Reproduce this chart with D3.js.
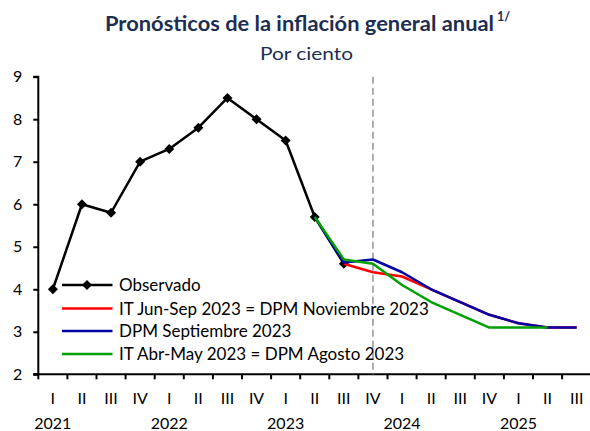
<!DOCTYPE html>
<html>
<head>
<meta charset="utf-8">
<script src="https://cdn.jsdelivr.net/npm/d3@7/dist/d3.min.js"></script>
<style>
  html, body { margin: 0; padding: 0; background: #fff; }
  svg { display: block; font-family: "Lato", "Liberation Sans", Arial, sans-serif; }
</style>
</head>
<body>
<svg id="chart" width="590" height="431"></svg>
<script>
// ---- Data ----
const quarterLabels = ["I","II","III","IV","I","II","III","IV","I","II","III","IV","I","II","III","IV","I","II","III"];
const yearLabels = ["2021","2022","2023","2024","2025"];
const yTicks = [2,3,4,5,6,7,8,9];

// Observed annual headline inflation, starting 2021 I
const observado = [4.0, 6.0, 5.8, 7.0, 7.3, 7.8, 8.5, 8.0, 7.5, 5.7, 4.6];
const observadoStart = 0;
// IT Jun-Sep 2023 = DPM Noviembre 2023, starting 2023 III
const itJunSep = [4.6, 4.4, 4.3, 4.0, 3.7, 3.4, 3.2, 3.1, 3.1];
const itJunSepStart = 10;
// DPM Septiembre 2023, starting 2023 II
const dpmSep = [5.7, 4.63, 4.7, 4.4, 4.0, 3.7, 3.4, 3.2, 3.1, 3.1];
const dpmSepStart = 9;
// IT Abr-May 2023 = DPM Agosto 2023, starting 2023 II
const itAbrMay = [5.7, 4.7, 4.6, 4.1, 3.7, 3.4, 3.1, 3.1, 3.1];
const itAbrMayStart = 9;

const legendNames = ["Observado", "IT Jun-Sep 2023 = DPM Noviembre 2023", "DPM Septiembre 2023", "IT Abr-May 2023 = DPM Agosto 2023"];
const colors = ["#000000", "#ff0000", "#0000a8", "#00a000"];
const dividerIndex = 11; // 2023 IV

// ---- Layout ----
const svg = d3.select("#chart");
const mLeft = 38.3, mRight = 591.2, mTop = 76.7, mBottom = 374.3;

const idx = d3.range(quarterLabels.length);
const x = d3.scaleBand().domain(idx).range([mLeft, mRight]).paddingInner(0).paddingOuter(0);
const cx = i => x(i) + x.bandwidth() / 2;
const y = d3.scaleLinear().domain([2, 9]).range([mBottom, mTop]);

// Title
const navy = "#1c2e52";
svg.append("text")
  .attr("x", 105).attr("y", 31)
  .attr("font-size", 20).attr("font-weight", "bold").attr("fill", navy)
  .attr("textLength", 389).attr("lengthAdjust", "spacingAndGlyphs")
  .text("Pronósticos de la inflación general anual");
svg.append("text")
  .attr("x", 497).attr("y", 21)
  .attr("font-size", 12.5).attr("font-weight", "bold").attr("fill", navy)
  .text("1/");
svg.append("text")
  .attr("x", 260).attr("y", 60)
  .attr("font-size", 18).attr("fill", navy)
  .attr("textLength", 93).attr("lengthAdjust", "spacingAndGlyphs")
  .text("Por ciento");

// Y axis
const yAxis = d3.axisLeft(y).tickValues(yTicks).tickSize(5).tickPadding(11).tickFormat(d3.format("d"));
const gy = svg.append("g").attr("transform", `translate(${mLeft},0)`).call(yAxis);
gy.select(".domain").attr("stroke", "#000").attr("stroke-width", 2).attr("d", `M-5,${mBottom}H0V${mTop}H-5`);
gy.selectAll(".tick line").attr("stroke", "#000").attr("stroke-width", 2);
gy.selectAll(".tick text").attr("font-size", 16).attr("fill", "#000").attr("font-family", "Lato, Liberation Sans, Arial, sans-serif");

// X axis line
svg.append("line").attr("x1", mLeft - 5).attr("x2", 590).attr("y1", mBottom).attr("y2", mBottom)
  .attr("stroke", "#000").attr("stroke-width", 2);
// X ticks at band boundaries
svg.append("g").selectAll("line").data(idx).join("line")
  .attr("x1", d => x(d)).attr("x2", d => x(d))
  .attr("y1", mBottom).attr("y2", mBottom + 5)
  .attr("stroke", "#000").attr("stroke-width", 2);
// Quarter labels
svg.append("g").selectAll("text").data(idx).join("text")
  .attr("x", d => cx(d)).attr("y", 404)
  .attr("text-anchor", "middle").attr("font-size", 16).attr("fill", "#000")
  .text(d => quarterLabels[d]);
// Year labels under the first quarter
svg.append("g").selectAll("text").data(yearLabels).join("text")
  .attr("x", (d, i) => cx(i * 4)).attr("y", 429)
  .attr("text-anchor", "middle").attr("font-size", 16).attr("fill", "#000")
  .text(d => d);

// Divider dashed line
svg.append("line")
  .attr("x1", cx(dividerIndex)).attr("x2", cx(dividerIndex))
  .attr("y1", y(9)).attr("y2", y(2))
  .attr("stroke", "#a6a6a6").attr("stroke-width", 1.8).attr("stroke-dasharray", "7,4");

// Series
const line = d3.line().x(d => cx(d.i)).y(d => y(d.v));
const toPts = (arr, start) => arr.map((v, k) => ({ i: start + k, v }));

const series = [
  { data: toPts(observado, observadoStart), color: colors[0], markers: true },
  { data: toPts(itJunSep, itJunSepStart), color: colors[1] },
  { data: toPts(dpmSep, dpmSepStart), color: colors[2] },
  { data: toPts(itAbrMay, itAbrMayStart), color: colors[3] }
];

const squareDiamond = {
  draw(ctx, size) {
    const r = Math.sqrt(size / 2);
    ctx.moveTo(0, -r); ctx.lineTo(r, 0); ctx.lineTo(0, r); ctx.lineTo(-r, 0); ctx.closePath();
  }
};
const diamond = d3.symbol().type(squareDiamond).size(50);

series.forEach(s => {
  svg.append("path").attr("d", line(s.data))
    .attr("fill", "none").attr("stroke", s.color).attr("stroke-width", 2.5)
    .attr("stroke-linejoin", "round");
  if (s.markers) {
    svg.append("g").selectAll("path").data(s.data).join("path")
      .attr("transform", d => `translate(${cx(d.i)},${y(d.v)})`)
      .attr("d", diamond).attr("fill", "#000");
  }
});

// Legend
const legendY = [285, 308.5, 331, 354];
const lg = svg.append("g");
legendNames.forEach((name, k) => {
  lg.append("line").attr("x1", 62).attr("x2", 112.5)
    .attr("y1", legendY[k]).attr("y2", legendY[k])
    .attr("stroke", colors[k]).attr("stroke-width", 2.5);
  if (k === 0) {
    lg.append("path").attr("transform", `translate(87,${legendY[k]})`)
      .attr("d", diamond).attr("fill", "#000");
  }
  lg.append("text").attr("x", 119).attr("y", legendY[k] + 6)
    .attr("font-size", 17).attr("fill", "#000").text(name);
});
</script>
</body>
</html>
